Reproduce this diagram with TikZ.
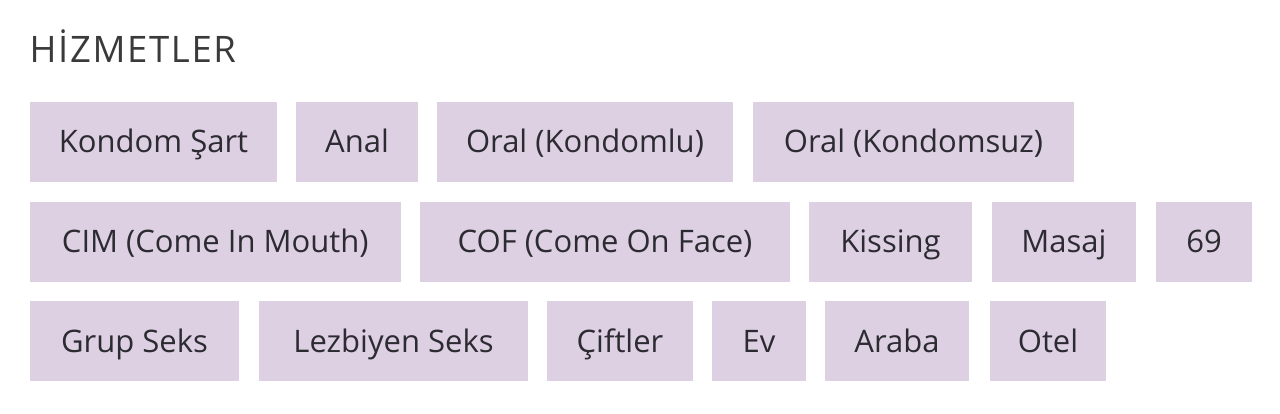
\documentclass[tikz,border=0pt]{standalone}
\usepackage{fontspec}
\setmainfont{Open Sans}
\newfontfamily\titlefont[LetterSpace=4.5]{Open Sans}
\definecolor{tagfill}{RGB}{221,208,227}
\definecolor{tagtext}{RGB}{45,43,50}
\definecolor{titletext}{RGB}{58,58,58}
\begin{document}
\begin{tikzpicture}[x=1pt,y=-1pt,
  tag/.style={fill=tagfill, text=tagtext, inner sep=0pt, minimum height=80pt,
    text height=22.5pt, text depth=0pt, font=\fontsize{31}{31}\selectfont},
  title/.style={anchor=base west, inner sep=0pt, text=titletext, font=\titlefont\fontsize{36.5}{36.5}\selectfont}]
\useasboundingbox (0,0) rectangle (1280,413);
\node[title] (t) at (29.5,62) {HİZMETLER};
\newcommand{\tagbox}[5]{\node[tag, minimum width={#3-#2}] (#1) at ({(#2+#3)/2},#4) {#5};}
% row 1
\tagbox{r1a}{30}{277}{141.5}{Kondom Şart}
\tagbox{r1b}{296}{418}{141.5}{Anal}
\tagbox{r1c}{437}{733}{141.5}{Oral (Kondomlu)}
\tagbox{r1d}{753}{1074}{141.5}{Oral (Kondomsuz)}
% row 2
\tagbox{r2a}{30}{400.5}{241.5}{CIM (Come In Mouth)}
\tagbox{r2b}{420}{790}{241.5}{COF (Come On Face)}
\tagbox{r2c}{809}{972}{241.5}{Kissing}
\tagbox{r2d}{992}{1136}{241.5}{Masaj}
\tagbox{r2e}{1156}{1252}{241.5}{69}
% row 3
\tagbox{r3a}{30}{239}{341}{Grup Seks}
\tagbox{r3b}{259}{528}{341}{Lezbiyen Seks}
\tagbox{r3c}{547}{693}{341}{Çiftler}
\tagbox{r3d}{712}{806}{341}{Ev}
\tagbox{r3e}{825}{969}{341}{Araba}
\tagbox{r3f}{990}{1106}{341}{Otel}
\end{tikzpicture}
\end{document}
